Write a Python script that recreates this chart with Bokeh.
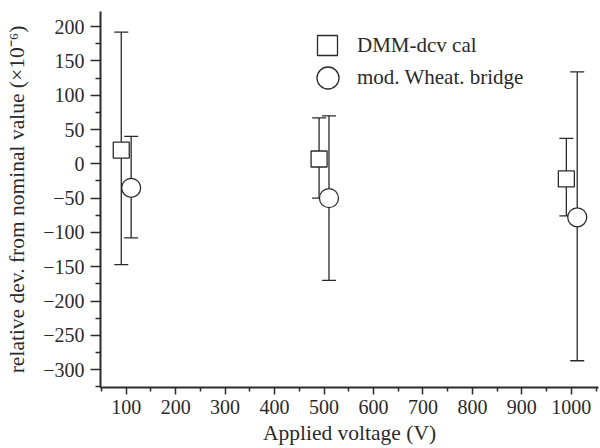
from bokeh.plotting import figure
from bokeh.models import (ColumnDataSource, Whisker, TeeHead, Legend, LegendItem,
                          Range1d, FixedTicker, CustomJSTickFormatter)
from bokeh.embed import file_html
from bokeh.resources import INLINE

# --- data -------------------------------------------------------------
dmm_v = [90, 490, 990]
dmm_dev = [20, 7, -22]
dmm_upper = [192, 67, 37]
dmm_lower = [-147, -50, -76]

wb_v = [110, 510, 1012]
wb_dev = [-35, -50, -78]
wb_upper = [40, 70, 134]
wb_lower = [-108, -170, -287]

x_ticks = [100, 200, 300, 400, 500, 600, 700, 800, 900, 1000]
x_minor = [50, 150, 250, 350, 450, 550, 650, 750, 850, 950, 1050]
y_ticks = [200, 150, 100, 50, 0, -50, -100, -150, -200, -250, -300]
y_minor = [-325, -275, -225, -175, -125, -75, -25, 25, 75, 125, 175, 225]

FONT = "'Liberation Serif', serif"
INK = "#2a2a2a"

p = figure(width=600, height=448, output_backend="svg", toolbar_location=None,
           x_range=Range1d(48, 1055), y_range=Range1d(-326, 222),
           min_border_left=100, min_border_right=2, min_border_top=11,
           min_border_bottom=61)
p.outline_line_color = None
p.xgrid.visible = False
p.ygrid.visible = False
p.background_fill_color = "white"
p.border_fill_color = "white"

minus_fmt = CustomJSTickFormatter(code="return String(tick).replace('-', '\u2212');")

for ax, ticks, minor in ((p.xaxis[0], x_ticks, x_minor), (p.yaxis[0], y_ticks, y_minor)):
    ax.ticker = FixedTicker(ticks=ticks, minor_ticks=minor)
    ax.axis_line_width = 2
    ax.axis_line_color = INK
    ax.major_tick_line_color = INK
    ax.minor_tick_line_color = INK
    ax.major_tick_line_width = 1.5
    ax.minor_tick_line_width = 1.5
    ax.major_tick_in = 0
    ax.minor_tick_in = 0
    ax.major_label_text_font = FONT
    ax.major_label_text_font_size = "20px"
    ax.major_label_text_color = INK
    ax.axis_label_text_font = FONT
    ax.axis_label_text_font_size = "21.5px"
    ax.axis_label_text_font_style = "normal"
    ax.axis_label_text_color = INK
    ax.formatter = minus_fmt

p.xaxis.major_tick_out = 7
p.xaxis.minor_tick_out = 4
p.yaxis.major_tick_out = 10
p.yaxis.minor_tick_out = 5

p.xaxis.axis_label = "Applied voltage (V)"
p.yaxis.axis_label = "relative dev. from nominal value (\u00d710\u207b\u2076)"
p.xaxis.axis_label_standoff = 4
p.yaxis.axis_label_standoff = 11
p.yaxis.major_label_standoff = 6
p.xaxis.major_label_standoff = 5

dmm_src = ColumnDataSource(dict(x=dmm_v, y=dmm_dev, upper=dmm_upper, lower=dmm_lower))
wb_src = ColumnDataSource(dict(x=wb_v, y=wb_dev, upper=wb_upper, lower=wb_lower))

for src in (dmm_src, wb_src):
    w = Whisker(source=src, base="x", upper="upper", lower="lower", dimension="height",
                line_color=INK, line_width=1.3,
                upper_head=TeeHead(size=14, line_color=INK, line_width=1.3),
                lower_head=TeeHead(size=14, line_color=INK, line_width=1.3),
                level="underlay")
    p.add_layout(w)

r_dmm = p.scatter("x", "y", source=dmm_src, marker="square", size=16,
                  fill_color="white", line_color=INK, line_width=1.3)
r_wb = p.scatter("x", "y", source=wb_src, marker="circle", size=19,
                 fill_color="white", line_color=INK, line_width=1.3)

def make_legend(label, rend, glyph, standoff, loc):
    lg = Legend(items=[LegendItem(label=label, renderers=[rend])],
                location=loc, glyph_width=glyph, glyph_height=glyph,
                label_standoff=standoff, padding=0, margin=0, spacing=0,
                border_line_color=None, background_fill_alpha=0,
                label_text_font=FONT, label_text_font_size="21px",
                label_text_color=INK, label_height=20)
    p.add_layout(lg)

make_legend("DMM-dcv cal", r_dmm, 50, 5, (202, 317))
make_legend("mod. Wheat. bridge", r_wb, 55, 2, (200, 282))

open("out.html", "w").write(file_html(p, INLINE))
